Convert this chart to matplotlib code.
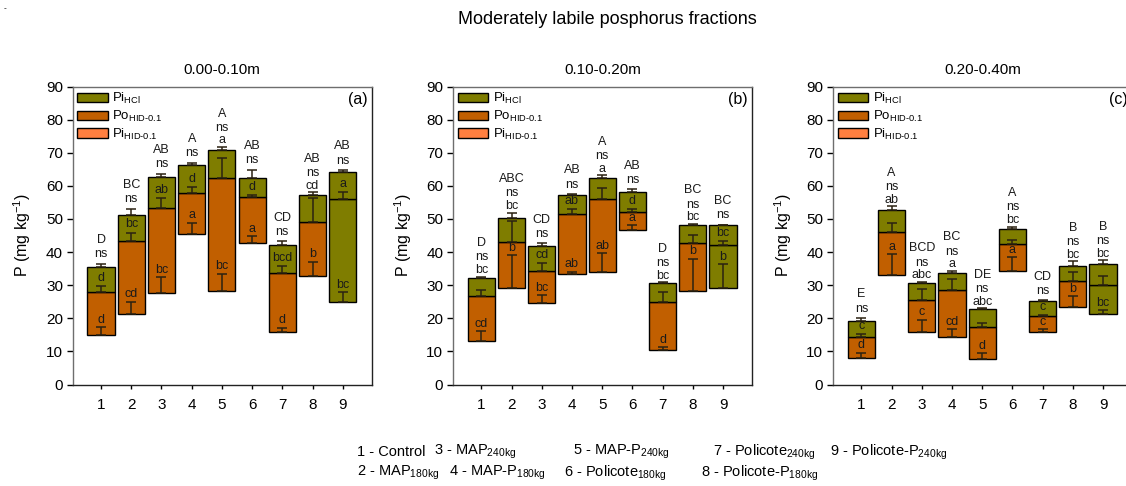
import matplotlib
matplotlib.use("Agg")
import matplotlib.pyplot as plt
from matplotlib.patches import Patch
import numpy as np

plt.rcParams['font.family'] = ['Liberation Sans', 'DejaVu Sans']
plt.rcParams['mathtext.fontset'] = 'custom'
plt.rcParams['mathtext.rm'] = 'Liberation Sans'
plt.rcParams['mathtext.it'] = 'Liberation Sans:italic'
plt.rcParams['mathtext.bf'] = 'Liberation Sans:bold'

# ---------------- data ----------------
treatments = [1, 2, 3, 4, 5, 6, 7, 8, 9]
depths = ["0.00-0.10m", "0.10-0.20m", "0.20-0.40m"]
panel_tags = ["(a)", "(b)", "(c)"]

# Panel (a) 0.00-0.10 m
pi_hid_a = [15.1, 21.3, 27.7, 45.4, 28.3, 42.8, 15.9, 32.9, 24.9]
po_hid_a = [12.7, 22.0, 25.6, 12.5, 34.0, 13.9, 17.8, 16.3, 31.2]
pi_hcl_a = [7.6, 7.9, 9.3, 8.3, 8.4, 5.7, 8.4, 7.9, 8.2]
sd_pi_hid_a = [2.2, 3.7, 4.7, 3.5, 5.2, 2.0, 1.3, 4.2, 3.0]
sd_po_hid_a = [1.8, 2.6, 3.0, 1.6, 6.0, 0.5, 2.1, 7.1, 1.9]
sd_pi_hcl_a = [1.1, 1.9, 1.1, 0.8, 1.0, 2.5, 1.1, 0.9, 0.4]
total_let_a = ['D', 'BC', 'AB', 'A', 'A', 'AB', 'CD', 'AB', 'AB']
pihid_let_a = ['ns'] * 9
hcl_let_a = ['d', 'bc', 'ab', 'd', 'a', 'd', 'bcd', 'cd', 'a']
po_let_a = ['d', 'cd', 'bc', 'a', 'bc', 'a', 'd', 'b', 'bc']

# Panel (b) 0.10-0.20 m
pi_hid_b = [13.0, 29.1, 24.7, 33.4, 34.1, 46.8, 10.3, 28.3, 29.1]
po_hid_b = [13.6, 13.9, 9.6, 18.1, 21.9, 5.2, 14.6, 14.5, 13.0]
pi_hcl_b = [5.6, 7.3, 7.5, 5.7, 6.3, 6.1, 5.7, 5.4, 6.1]
sd_pi_hid_b = [3.2, 10.0, 2.2, 0.7, 5.6, 1.3, 1.0, 9.7, 7.2]
sd_po_hid_b = [2.0, 6.4, 2.3, 1.4, 3.2, 0.9, 3.0, 2.5, 1.3]
sd_pi_hcl_b = [0.4, 1.6, 0.8, 0.3, 0.9, 0.8, 0.3, 0.3, 0.1]
total_let_b = ['D', 'ABC', 'CD', 'AB', 'A', 'AB', 'D', 'BC', 'BC']
pihid_let_b = ['ns'] * 9
hcl_let_b = ['bc', 'bc', 'cd', 'ab', 'a', 'd', 'bc', 'bc', 'bc']
po_let_b = ['cd', 'b', 'bc', 'ab', 'ab', 'a', 'd', 'b', 'b']

# Panel (c) 0.20-0.40 m
pi_hid_c = [8.0, 33.1, 15.9, 14.3, 7.8, 34.4, 16.0, 23.3, 21.3]
po_hid_c = [6.3, 13.1, 9.5, 14.2, 9.5, 7.9, 4.6, 8.0, 8.8]
pi_hcl_c = [5.0, 6.5, 5.2, 5.1, 5.4, 4.6, 4.6, 4.5, 6.2]
sd_pi_hid_c = [1.6, 6.3, 3.7, 2.4, 1.6, 4.0, 0.8, 3.3, 1.2]
sd_po_hid_c = [1.0, 2.6, 3.3, 3.4, 1.2, 1.2, 0.4, 2.8, 2.7]
sd_pi_hcl_c = [0.7, 1.1, 0.4, 0.7, 0.3, 0.8, 0.2, 1.4, 1.2]
total_let_c = ['E', 'A', 'BCD', 'BC', 'DE', 'A', 'CD', 'B', 'B']
pihid_let_c = ['ns'] * 9
hcl_let_c = ['c', 'ab', 'abc', 'a', 'abc', 'bc', 'c', 'bc', 'bc']
po_let_c = ['d', 'a', 'c', 'cd', 'd', 'a', 'c', 'b', 'bc']

key_row1 = ['1 - Control', r'3 - MAP$_{\text{240kg}}$', r'5 - MAP-P$_{\text{240kg}}$',
            r'7 - Policote$_{\text{240kg}}$', r'9 - Policote-P$_{\text{240kg}}$']
key_row2 = [r'2 - MAP$_{\text{180kg}}$', r'4 - MAP-P$_{\text{180kg}}$',
            r'6 - Policote$_{\text{180kg}}$', r'8 - Policote-P$_{\text{180kg}}$']

# ---------------- layout / style ----------------
C_HCL = '#7f7d00'
C_PO = '#c15f00'
C_PIHID = '#ff7f40'
ERRC = '#2b2212'
po_colors = [C_PO] * 8 + [C_HCL]
# whether the Pi_HCl letter sits above the bar (no room inside)
hcl_above_layout = [
    [False, False, False, False, True, False, False, True, False],
    [True, True, False, False, True, False, True, True, False],
    [False, True, True, True, True, True, False, True, True],
]

panels = [
    (pi_hid_a, po_hid_a, pi_hcl_a, sd_pi_hid_a, sd_po_hid_a, sd_pi_hcl_a,
     total_let_a, pihid_let_a, hcl_let_a, po_let_a),
    (pi_hid_b, po_hid_b, pi_hcl_b, sd_pi_hid_b, sd_po_hid_b, sd_pi_hcl_b,
     total_let_b, pihid_let_b, hcl_let_b, po_let_b),
    (pi_hid_c, po_hid_c, pi_hcl_c, sd_pi_hid_c, sd_po_hid_c, sd_pi_hcl_c,
     total_let_c, pihid_let_c, hcl_let_c, po_let_c),
]

W, H = 1126, 486
fig = plt.figure(figsize=(W / 100, H / 100), dpi=100)
lefts = [72.7, 453.0, 833.0]
ax_w = 299.0
ax_top, ax_bot = 86.5, 384.5

for i, (pihid, po, hcl, s_hid, s_po, s_hcl, tl, nl, hl, pl) in enumerate(panels):
    ax = fig.add_axes([lefts[i] / W, 1 - ax_bot / H, ax_w / W, (ax_bot - ax_top) / H])
    x = np.array(treatments, dtype=float)
    pihid = np.array(pihid); po = np.array(po); hcl = np.array(hcl)
    s_hid = np.array(s_hid); s_po = np.array(s_po); s_hcl = np.array(s_hcl)
    po_top = pihid + po
    hcl_top = po_top + hcl

    ax.bar(x, po, bottom=pihid, width=0.9, color=po_colors, edgecolor='black',
           linewidth=1.0, zorder=2)
    ax.bar(x, hcl, bottom=po_top, width=0.9, color=C_HCL, edgecolor='black',
           linewidth=1.0, zorder=2)
    zeros = np.zeros_like(x)
    for tops, sd in [(pihid, s_hid), (po_top, s_po), (hcl_top, s_hcl)]:
        ax.errorbar(x, tops, yerr=[zeros, sd], fmt='none', ecolor=ERRC,
                    elinewidth=1.1, capsize=3.8, capthick=1.1, zorder=3)

    above = hcl_above_layout[i]
    for j in range(len(x)):
        fs = 9
        tc = '#1a1a1a'
        y_po = pihid[j] + s_hid[j] + 2.2
        ax.text(x[j], y_po, pl[j], ha='center', va='center', fontsize=fs, color=tc, zorder=4)
        if above[j]:
            y_h = hcl_top[j] + s_hcl[j] + 2.0
            y_ns = y_h + 3.8
        else:
            y_h = po_top[j] + s_po[j] + 2.5
            y_ns = hcl_top[j] + s_hcl[j] + 2.9
        ax.text(x[j], y_h, hl[j], ha='center', va='center', fontsize=fs, color=tc, zorder=4)
        ax.text(x[j], y_ns, nl[j], ha='center', va='center', fontsize=fs, color=tc, zorder=4)
        ax.text(x[j], y_ns + 4.3, tl[j], ha='center', va='center', fontsize=fs, color=tc, zorder=4)

    ax.set_xlim(0.06, 9.96)
    ax.set_ylim(0, 90)
    ax.set_xticks(treatments)
    ax.set_yticks(np.arange(0, 91, 10))
    ax.tick_params(axis='y', direction='out', length=4, width=1, labelsize=11, pad=3)
    ax.tick_params(axis='x', direction='out', length=3, width=1, labelsize=11, pad=7)
    ax.spines['top'].set_color('#6e6e6e')
    ax.spines['left'].set_color('#6e6e6e')
    ax.spines['bottom'].set_color('#222222')
    ax.spines['right'].set_color('#222222')
    for sp in ax.spines.values():
        sp.set_linewidth(1.0)

    ax.set_ylabel(r'P (mg kg$^{\mathregular{-1}}$)', fontsize=11.5, labelpad=9)
    ax.set_title(depths[i], fontsize=11, pad=9)
    ax.text(0.985, 0.955, panel_tags[i], transform=ax.transAxes, ha='right',
            va='center', fontsize=11.5)

    handles = [Patch(facecolor=C_HCL, edgecolor='black', linewidth=1.0),
               Patch(facecolor=C_PO, edgecolor='black', linewidth=1.0),
               Patch(facecolor=C_PIHID, edgecolor='black', linewidth=1.0)]
    labels = [r'Pi$_{\text{HCl}}$', r'Po$_{\text{HID-0.1}}$', r'Pi$_{\text{HID-0.1}}$']
    ax.legend(handles, labels, loc='upper left', bbox_to_anchor=(0.0, 1.0),
              frameon=False, fontsize=9.5, handlelength=2.3, handleheight=0.7,
              handletextpad=0.35, labelspacing=0.2, borderaxespad=0.1,
              borderpad=0.25)

fig.text(607 / W, 1 - 20 / H, 'Moderately labile posphorus fractions',
         ha='center', va='center', fontsize=13)

row1_x = [357, 434, 573, 713, 830]
row2_x = [357, 449, 564, 701]
for xx, s in zip(row1_x, key_row1):
    fig.text(xx / W, 1 - 452 / H, s, ha='left', va='center', fontsize=10.5)
for xx, s in zip(row2_x, key_row2):
    fig.text(xx / W, 1 - 473 / H, s, ha='left', va='center', fontsize=10.5)

fig.text(4 / W, 1 - 9 / H, '-', ha='left', va='center', fontsize=6)

fig.savefig('out.png', dpi=100)
